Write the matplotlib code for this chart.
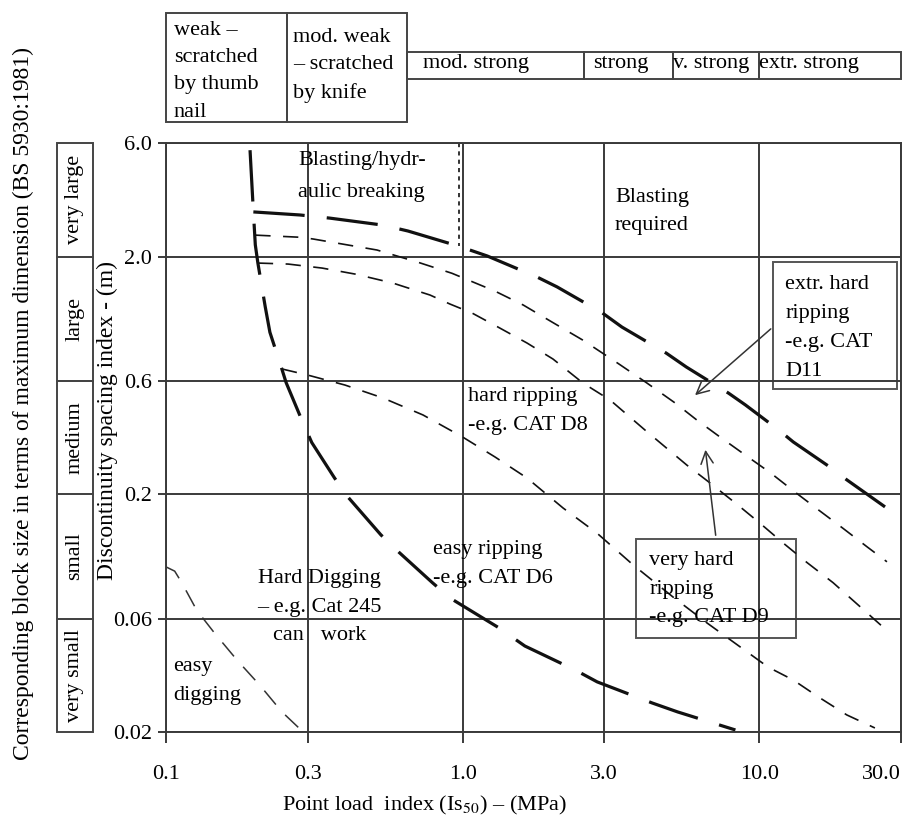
import matplotlib.pyplot as plt
from matplotlib.patches import Rectangle
from matplotlib.ticker import NullLocator

plt.rcParams['font.family'] = ['Liberation Serif', 'DejaVu Serif']
plt.rcParams['mathtext.fontset'] = 'stix'
plt.rcParams['lines.scale_dashes'] = False

# axes ticks
x_ticks = [0.1, 0.3, 1.0, 3.0, 10.0, 30.0]
x_tick_labels = ['0.1', '0.3', '1.0', '3.0', '10.0', '30.0']
y_ticks = [0.02, 0.06, 0.2, 0.6, 2.0, 6.0]
y_tick_labels = ['0.02', '0.06', '0.2', '0.6', '2.0', '6.0']

# rock strength classes along the top (point load index, MPa)
strength_edges = [0.1, 0.256, 0.65, 2.56, 5.1, 10.0, 30.0]
strength_labels = ['weak –\nscratched\nby thumb\nnail', 'mod. weak\n– scratched\nby knife',
                   'mod. strong', 'strong', 'v. strong', 'extr. strong']

# block size classes down the left side (m)
block_edges = [0.02, 0.06, 0.2, 0.6, 2.0, 6.0]
block_labels = ['very small', 'small', 'medium', 'large', 'very large']

# digging / ripping boundary (thick)
dig_rip_x = [0.192, 0.197, 0.2, 0.204, 0.216, 0.224, 0.246, 0.254, 0.287, 0.31, 0.37,
             0.41, 0.53, 0.61, 0.79, 0.91, 1.32, 1.62, 2.39, 2.84, 4.35, 5.3, 8.3]
dig_rip_y = [5.6, 3.1, 2.24, 1.88, 1.23, 0.96, 0.67, 0.59, 0.41, 0.33, 0.234,
             0.195, 0.135, 0.114, 0.085, 0.073, 0.055, 0.046, 0.0365, 0.0325, 0.0265, 0.0243, 0.0204]

# blasting boundary (thick)
blast_x = [0.197, 0.283, 0.357, 0.539, 0.654, 0.97, 1.21, 1.78, 2.08, 2.95, 3.44,
           4.85, 5.67, 7.86, 8.97, 11.6, 13.0, 17.3, 19.7, 26.5]
blast_y = [3.08, 2.99, 2.90, 2.71, 2.56, 2.21, 2.01, 1.64, 1.49, 1.16, 1.01,
           0.785, 0.686, 0.533, 0.475, 0.373, 0.332, 0.260, 0.230, 0.177]

# hydraulic breaking limit (dotted)
hyd_x = [0.97, 0.97]
hyd_y = [6.0, 2.21]

# extr. hard / very hard ripping boundary
xhard_x = [0.2, 0.283, 0.313, 0.514, 0.718, 0.92, 1.285, 1.6, 2.0, 2.54, 3.34,
           4.18, 5.2, 6.16, 7.37, 8.94, 10.9, 13.2, 15.8, 19.1, 23.1, 26.9]
xhard_y = [2.46, 2.41, 2.37, 2.13, 1.88, 1.70, 1.43, 1.25, 1.06, 0.89, 0.71,
           0.587, 0.484, 0.41, 0.348, 0.293, 0.246, 0.204, 0.172, 0.144, 0.12, 0.104]

# very hard / hard ripping boundary
vhard_x = [0.204, 0.258, 0.336, 0.434, 0.582, 0.776, 0.906, 1.075, 1.315, 1.648, 2.015,
           2.544, 3.14, 4.11, 5.70, 6.82, 8.47, 10.05, 12.0, 14.5, 17.7, 27.1]
vhard_y = [1.877, 1.859, 1.788, 1.687, 1.546, 1.377, 1.262, 1.157, 1.01, 0.865, 0.741,
           0.587, 0.498, 0.373, 0.265, 0.223, 0.180, 0.151, 0.125, 0.103, 0.085, 0.053]

# hard / easy ripping boundary
hard_x = [0.246, 0.301, 0.401, 0.539, 0.735, 1.0, 1.285, 1.648, 2.18, 2.84, 3.75,
          5.11, 6.66, 8.74, 10.7, 13.0, 15.8, 19.7, 24.5]
hard_y = [0.673, 0.634, 0.576, 0.508, 0.431, 0.348, 0.287, 0.234, 0.175, 0.137, 0.101,
          0.074, 0.0575, 0.045, 0.0375, 0.0331, 0.0281, 0.0236, 0.0208]

# easy digging boundary
easy_x = [0.1, 0.107, 0.113, 0.127, 0.146, 0.174, 0.207, 0.246, 0.29]
easy_y = [0.099, 0.095, 0.085, 0.065, 0.052, 0.040, 0.0315, 0.0243, 0.020]

FS = 16
LS = 1.7
LINE = '#111111'
GRID = '#3a3a3a'

fig = plt.figure(figsize=(9.15, 8.18), dpi=100)
left, bottom, width, height = 0.1814, 0.1051, 0.8033, 0.7200
ax = fig.add_axes([left, bottom, width, height])
ax.set_xscale('log')
ax.set_yscale('log')
ax.set_xlim(0.1, 30)
ax.set_ylim(0.02, 6)
ax.set_xticks(x_ticks, x_tick_labels)
ax.set_yticks(y_ticks, y_tick_labels)
ax.xaxis.set_minor_locator(NullLocator())
ax.yaxis.set_minor_locator(NullLocator())
ax.grid(True, color=GRID, lw=1.4)
ax.tick_params(labelsize=FS, direction='out', color=GRID, width=1.4)
ax.tick_params(axis='x', length=8, pad=16)
ax.tick_params(axis='y', length=6, pad=4)
ax.get_xticklabels()[-1].set_horizontalalignment('right')
for sp in ax.spines.values():
    sp.set_linewidth(1.4)
    sp.set_color(GRID)

thick = dict(color=LINE, lw=2.3, dashes=(37, 16))
medium = dict(color=LINE, lw=1.2, dashes=(11, 9))
ax.plot(dig_rip_x, dig_rip_y, **thick)
ax.plot(blast_x, blast_y, **thick)
ax.plot(hyd_x, hyd_y, color=LINE, lw=1.2, dashes=(3, 3))
ax.plot(xhard_x, xhard_y, **medium)
ax.plot(vhard_x, vhard_y, **medium)
ax.plot(hard_x, hard_y, **medium)
ax.plot(easy_x, easy_y, color='#333333', lw=1.1, dashes=(13, 10))

ts = dict(fontsize=FS, linespacing=LS, va='center')
ax.text(0.279, 4.34, 'Blasting/hydr-\naulic breaking', ha='left',
        fontsize=FS, linespacing=1.88, va='center')
ax.text(3.26, 3.09, 'Blasting\nrequired', ha='left', **ts)
ax.text(12.2, 1.0, 'extr. hard\nripping\n-e.g. CAT\nD11', ha='left', **ts)
ax.text(1.042, 0.448, 'hard ripping\n-e.g. CAT D8', ha='left', **ts)
ax.text(0.794, 0.1018, 'easy ripping\n-e.g. CAT D6', ha='left', **ts)
ax.text(4.25, 0.0799, 'very hard\nripping\n-e.g. CAT D9', ha='left', **ts)
ax.text(0.33, 0.0671, 'Hard Digging\n– e.g. Cat 245\ncan   work', ha='center', **ts)
ax.text(0.1056, 0.0328, 'easy\ndigging', ha='left', **ts)

box = dict(fill=False, ec='#555555', lw=1.4)
ax.add_patch(Rectangle((11.1, 0.554), 29.1 - 11.1, 1.895 - 0.554, **box))
ax.add_patch(Rectangle((3.84, 0.0497), 13.29 - 3.84, 0.1297 - 0.0497, **box))
arrow = dict(arrowstyle='->', color='#333333', lw=1.1, mutation_scale=22)
ax.annotate('', xy=(5.97, 0.513), xytext=(11.1, 1.01), arrowprops=arrow)
ax.annotate('', xy=(6.56, 0.316), xytext=(7.14, 0.1309), arrowprops=arrow)

# strength class boxes above the chart
ax_top = fig.add_axes([left, 1 - 122 / 818, width, 109 / 818])
ax_top.set_xscale('log')
ax_top.set_xlim(0.1, 30)
ax_top.set_ylim(0, 1)
ax_top.axis('off')
for i, lab in enumerate(strength_labels):
    x0, x1 = strength_edges[i], strength_edges[i + 1]
    if i < 2:
        y0, h, yc = 0, 1, [0.466, 0.517][i]
    else:
        y0, h, yc = 0.394, 0.248, 0.535
    ax_top.add_patch(Rectangle((x0, y0), x1 - x0, h, fill=False, ec='#444444', lw=1.4, clip_on=False))
    pad = [1.064, 1.047, 1.13, 1.075, 1.0, 1.0][i]
    ax_top.text(x0 * pad, yc, lab, fontsize=FS, linespacing=1.6, ha='left', va='center')

# block size boxes on the left
ax_left = fig.add_axes([57 / 915, bottom, 36 / 915, height])
ax_left.set_yscale('log')
ax_left.set_ylim(0.02, 6)
ax_left.set_xlim(0, 1)
ax_left.axis('off')
for i, lab in enumerate(block_labels):
    b0, b1 = block_edges[i], block_edges[i + 1]
    ax_left.add_patch(Rectangle((0, b0), 1, b1 - b0, fill=False, ec='#444444', lw=1.4, clip_on=False))
    ax_left.text(0.5, (b0 * b1) ** 0.5, lab, rotation=90, fontsize=FS, ha='center', va='center')

fig.text(23 / 915, 1 - 403 / 818, 'Corresponding block size in terms of maximum dimension (BS 5930:1981)',
         rotation=90, ha='center', va='center', fontsize=17)
fig.text(107 / 915, 1 - 420 / 818, 'Discontinuity spacing index - (m)',
         rotation=90, ha='center', va='center', fontsize=17)
fig.text(424 / 915, 1 - 805 / 818, r'Point load  index (Is$_{50}$) – (MPa)',
         ha='center', va='center', fontsize=FS)

fig.savefig('out.png', dpi=100)
